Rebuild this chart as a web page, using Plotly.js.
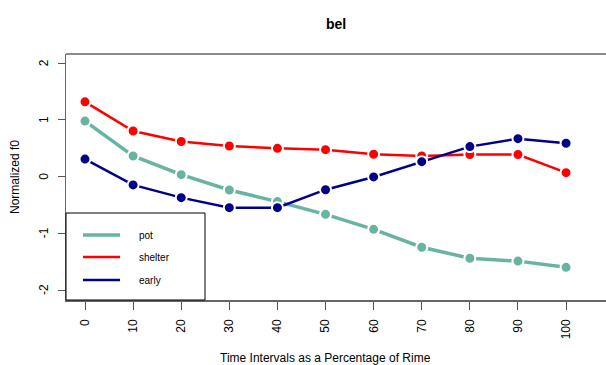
<!DOCTYPE html>
<html>
<head>
<meta charset="utf-8">
<script src="https://cdn.plot.ly/plotly-3.0.1.min.js"></script>
<style>html,body{margin:0;padding:0;background:#fff;}#chart{width:606px;height:365px;}</style>
</head>
<body>
<div id="chart"></div>
<script>
const timePoints = [0, 10, 20, 30, 40, 50, 60, 70, 80, 90, 100];
const potValues = [0.98, 0.365, 0.035, -0.235, -0.44, -0.665, -0.93, -1.245, -1.44, -1.49, -1.60];
const shelterValues = [1.32, 0.806, 0.62, 0.54, 0.50, 0.476, 0.395, 0.365, 0.39, 0.39, 0.07];
const earlyValues = [0.31, -0.146, -0.37, -0.547, -0.547, -0.23, -0.005, 0.265, 0.53, 0.67, 0.59];
const seriesNames = ["pot", "shelter", "early"];
const seriesColors = ["#69b3a2", "#ff0000", "#00008b"];
const seriesWidths = [3.5, 2.5, 2.5];
const yTicks = [-2, -1, 0, 1, 2];
const chartTitle = "bel";
const xTitle = "Time Intervals as a Percentage of Rime";
const yTitle = "Normalized f0";

const allValues = [potValues, shelterValues, earlyValues];
const traces = allValues.map((vals, i) => ({
  x: timePoints, y: vals, type: "scatter", mode: "lines+markers",
  name: seriesNames[i],
  line: {color: seriesColors[i], width: seriesWidths[i]},
  marker: {color: seriesColors[i], size: 11, line: {color: "#ffffff", width: 2}},
  showlegend: false, cliponaxis: false
}));

const shapes = [
  {type: "line", xref: "paper", yref: "paper", x0: 0, x1: 1.05, y0: 1, y1: 1,
   line: {color: "#666", width: 1.5}},
  {type: "rect", xref: "paper", yref: "paper", x0: 0, x1: 139/540, y0: 0, y1: 87/246,
   line: {color: "#000", width: 1}, fillcolor: "rgba(255,255,255,0)", layer: "above"}
];
const annotations = [
  {text: "<b>" + chartTitle + "</b>", xref: "paper", yref: "paper", x: 0.5, y: (54 - 24) / 246 + 1,
   showarrow: false, xanchor: "center", yanchor: "middle", font: {size: 14, color: "#000"}},
  {text: xTitle, xref: "paper", yref: "paper", x: (325.5 - 66) / 540, y: -(358 - 300) / 246,
   showarrow: false, xanchor: "center", yanchor: "middle", font: {size: 12, color: "#000"}},
  {text: yTitle, xref: "paper", yref: "paper", x: (15 - 66) / 540, y: (300 - 177) / 246,
   showarrow: false, xanchor: "center", yanchor: "middle", textangle: -90, font: {size: 12, color: "#000"}}
];
yTicks.forEach(v => {
  annotations.push({text: String(v), xref: "paper", yref: "y", x: (44 - 66) / 540, y: v,
    showarrow: false, xanchor: "center", yanchor: "middle", textangle: -90, font: {size: 12, color: "#000"}});
});
const legendYs = [235, 257, 280];
seriesNames.forEach((name, i) => {
  const yp = (300 - legendYs[i]) / 246;
  shapes.push({type: "line", xref: "paper", yref: "paper", x0: (83 - 66) / 540, x1: (120 - 66) / 540,
    y0: yp, y1: yp, line: {color: seriesColors[i], width: seriesWidths[i]}});
  annotations.push({text: name, xref: "paper", yref: "paper", x: (137 - 66) / 540, y: yp,
    showarrow: false, xanchor: "left", yanchor: "middle", font: {size: 10, color: "#000"}});
});

const layout = {
  width: 606, height: 365,
  margin: {l: 66, r: 0, t: 54, b: 65},
  paper_bgcolor: "#fff", plot_bgcolor: "#fff",
  font: {family: "Liberation Sans, Arial, sans-serif", color: "#000", size: 12},
  xaxis: {
    range: [-3.95, 108.3], tickvals: timePoints, ticktext: timePoints.map(String),
    tickangle: -90, ticks: "outside", ticklen: 8, tickcolor: "#555", tickwidth: 1,
    ticklabelstandoff: 5,
    showline: true, linecolor: "#666", linewidth: 1.5,
    showgrid: false, zeroline: false, fixedrange: true, tickfont: {size: 12}
  },
  yaxis: {
    range: [-2.176, 2.164], tickvals: yTicks, showticklabels: false,
    ticks: "outside", ticklen: 7, tickcolor: "#555", tickwidth: 1,
    showline: true, linecolor: "#666", linewidth: 1.5,
    showgrid: false, zeroline: false, fixedrange: true
  },
  shapes: shapes, annotations: annotations, showlegend: false
};
Plotly.newPlot("chart", traces, layout, {displayModeBar: false, staticPlot: true});
</script>
</body>
</html>
